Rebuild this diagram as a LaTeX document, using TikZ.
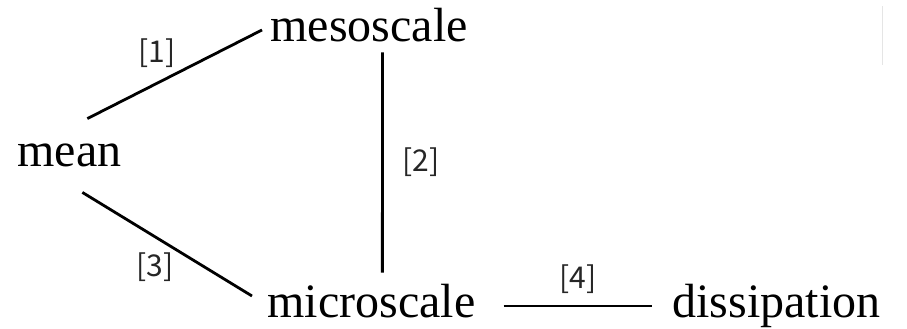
\documentclass[tikz,border=0pt]{standalone}
\usepackage{fontspec}
\setmainfont{Liberation Serif}
\newfontfamily\tagfont{Noto Sans CJK SC}
\usetikzlibrary{positioning, calc}
\tikzset{every picture/.append style={thick}}

\begin{document}
\begin{tikzpicture}[x=1pt, y=1pt,
    word/.style={inner sep=0pt, anchor=base west, text height=34pt, text depth=10pt, font=\fontsize{48}{56}\selectfont},
    link/.style={line width=2.8pt},
    tag/.style={inner sep=0pt, text=black!85, font=\tagfont\fontsize{30}{34}\selectfont}]
    % Frame (keeps the margins of the original)
    \useasboundingbox (0,0) rectangle (907,329);

    % Scale levels
    \node[word] (mean) at (17,162) {mean};
    \node[word] (meso) at (270,287) {mesoscale};
    \node[word] (micro) at (267,11) {microscale};
    \node[word] (diss) at (672,11) {dissipation};

    % Transfer paths
    \draw[link] ([xshift=18pt,yshift=14pt]mean.north) -- ([xshift=-8pt]meso.west)
        node[tag, pos=0.4, above=14pt] {[1]};
    \draw[link] ([xshift=13.5pt]meso.south) -- ([xshift=11pt,yshift=11pt]micro.north)
        node[tag, midway, right=19pt] {[2]};
    \draw[link] ([xshift=13pt,yshift=-15pt]mean.south) -- ([xshift=-15pt,yshift=10pt]micro.west)
        node[tag, pos=0.43, below=14pt] {[3]};
    \draw[link] ([xshift=28pt,yshift=0pt]micro.east) -- ([xshift=-20pt,yshift=0pt]diss.west)
        node[tag, midway, above=11pt] {[4]};

    % Faint edge mark at top right
    \draw[gray!20, line width=1pt] (882,323) -- (882,264);
\end{tikzpicture}
\end{document}
